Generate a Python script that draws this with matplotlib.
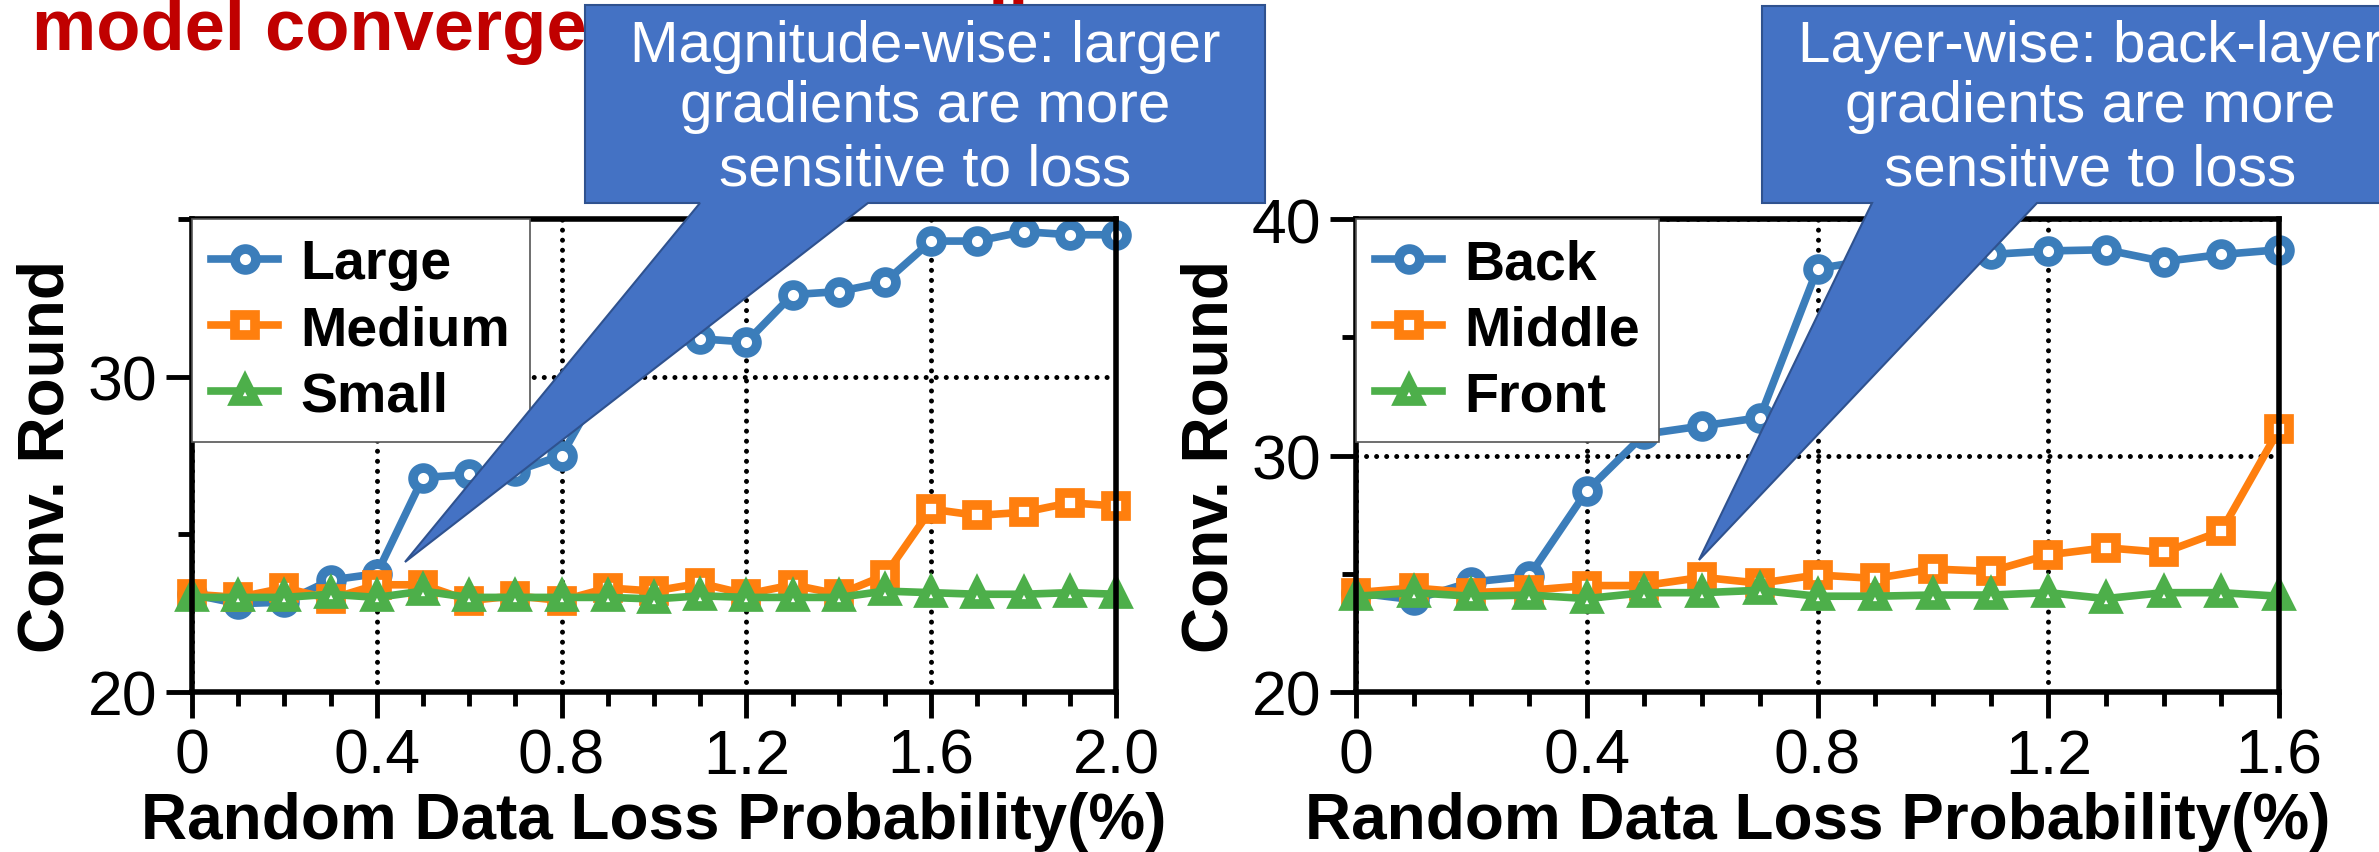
import numpy as np
import matplotlib.pyplot as plt
from matplotlib.patches import Polygon
from matplotlib.ticker import MultipleLocator

plt.rcParams['font.family'] = ['Liberation Sans', 'DejaVu Sans']

W, H = 2379, 853

# left panel: gradients grouped by magnitude
x_mag = [0.0, 0.1, 0.2, 0.3, 0.4, 0.5, 0.6, 0.7, 0.8, 0.9, 1.0,
         1.1, 1.2, 1.3, 1.4, 1.5, 1.6, 1.7, 1.8, 1.9, 2.0]
large = [23.1, 22.8, 22.85, 23.55, 23.75, 26.8, 26.9, 27.0, 27.5, 30.1, 30.9,
         31.2, 31.1, 32.6, 32.7, 33.0, 34.3, 34.3, 34.6, 34.5, 34.5]
medium = [23.1, 23.0, 23.3, 22.95, 23.4, 23.4, 22.9, 23.05, 22.9, 23.3, 23.2,
          23.45, 23.1, 23.4, 23.1, 23.7, 25.8, 25.6, 25.7, 26.0, 25.9]
small = [23.0, 23.0, 23.0, 23.1, 23.0, 23.2, 23.0, 23.0, 23.0, 23.0, 22.95,
         23.05, 23.0, 23.0, 23.0, 23.2, 23.15, 23.1, 23.1, 23.15, 23.1]
mag_labels = ['Large', 'Medium', 'Small']
mag_xticks = ['0', '0.4', '0.8', '1.2', '1.6', '2.0']

# right panel: gradients grouped by layer
x_layer = [0.0, 0.1, 0.2, 0.3, 0.4, 0.5, 0.6, 0.7, 0.8,
           0.9, 1.0, 1.1, 1.2, 1.3, 1.4, 1.5, 1.6]
back = [24.2, 23.9, 24.65, 24.9, 28.5, 30.9, 31.25, 31.6, 37.9,
        38.3, 38.4, 38.5, 38.65, 38.7, 38.2, 38.5, 38.7]
middle = [24.2, 24.4, 24.2, 24.3, 24.5, 24.5, 24.85, 24.6, 24.95,
          24.8, 25.2, 25.1, 25.8, 26.1, 25.9, 26.8, 31.1]
front = [24.05, 24.2, 24.05, 24.1, 23.95, 24.2, 24.2, 24.3, 24.05,
         24.05, 24.1, 24.1, 24.2, 23.95, 24.2, 24.2, 24.05]
layer_labels = ['Back', 'Middle', 'Front']
layer_xticks = ['0', '0.4', '0.8', '1.2', '1.6']

colors = ['#3b7dba', '#ff7f0e', '#4daf4a']
markers = ['o', 's', '^']

title = 'model convergence unequally'
callout_left = ['Magnitude-wise: larger', 'gradients are more', 'sensitive to loss']
callout_right = ['Layer-wise: back-layer', 'gradients are more', 'sensitive to loss']


def px(x, y):
    # pixel position (from top-left) -> figure fraction
    return (x / W, 1 - y / H)


def draw_panel(ax, x, series, labels, ymax, xticklabels):
    for y, lab, c, m in zip(series, labels, colors, markers):
        ax.plot(x, y, color=c, marker=m, lw=5.5, ms=15, mew=7,
                mfc='white', mec=c, label=lab, clip_on=False)
    ax.set_xlim(0, x[-1])
    ax.set_ylim(20, ymax)
    ax.xaxis.set_minor_locator(MultipleLocator(0.1))
    ax.yaxis.set_minor_locator(MultipleLocator(5))
    ax.set_xticks(np.arange(0, x[-1] + 0.01, 0.4))
    ax.set_xticklabels(xticklabels)
    ax.set_yticks(np.arange(20, ymax + 0.01, 10))
    ax.set_yticklabels([str(int(v)) for v in np.arange(20, ymax + 0.01, 10)])
    ax.tick_params(which='major', direction='out', length=19, width=3.5,
                   labelsize=45, pad=6)
    ax.tick_params(which='minor', direction='out', length=10, width=3.5)
    ax.grid(True, which='major', color='black', ls=(0, (0.01, 2.0)), lw=3.6,
            dash_capstyle='round')
    for s in ax.spines.values():
        s.set_linewidth(4)
    ax.set_xlabel('Random Data Loss Probability(%)', fontsize=46,
                  fontweight='bold', labelpad=4)
    ax.set_ylabel('Conv. Round', fontsize=46, fontweight='bold', labelpad=8)
    leg = ax.legend(loc='upper left', bbox_to_anchor=(0, 1), borderaxespad=0,
                    prop={'size': 40, 'weight': 'bold'}, handlelength=1.2,
                    handletextpad=0.4, borderpad=0.35, labelspacing=0.25,
                    fancybox=False, framealpha=1, edgecolor='#555555')
    leg.get_frame().set_linewidth(1.2)


def draw_callout(fig, rect, base, tip, lines, cx):
    x0, y0, x1, y1 = rect
    pts = [(x0, y0), (x1, y0), (x1, y1), (base[1], y1), tip,
           (base[0], y1), (x0, y1)]
    poly = Polygon([px(*p) for p in pts], closed=True, transform=fig.transFigure,
                   facecolor='#4472c4', edgecolor='#2f528f', lw=1.5, zorder=10)
    fig.add_artist(poly)
    for line, yb in zip(lines, [62, 122, 186]):
        fig.text(*px(cx, yb), line, color='white', fontsize=42, ha='center',
                 va='baseline', zorder=11)


fig = plt.figure(figsize=(W / 100, H / 100), dpi=100)
ax1 = fig.add_axes([192 / W, 1 - 693 / H, (1116 - 192) / W, (693 - 220) / H])
ax2 = fig.add_axes([1356 / W, 1 - 693 / H, (2279 - 1356) / W, (693 - 220) / H])

draw_panel(ax1, x_mag, [large, medium, small], mag_labels, 35, mag_xticks)
draw_panel(ax2, x_layer, [back, middle, front], layer_labels, 40, layer_xticks)

fig.text(*px(32, 50), title, color='#c00000', fontsize=52, fontweight='bold',
         va='baseline')

draw_callout(fig, (585, 6, 1265, 204), (700, 868), (405, 563), callout_left, 925)
draw_callout(fig, (1762, 7, 2420, 204), (1872, 2037), (1699, 561), callout_right, 2090)

fig.savefig('out.png', dpi=100)
